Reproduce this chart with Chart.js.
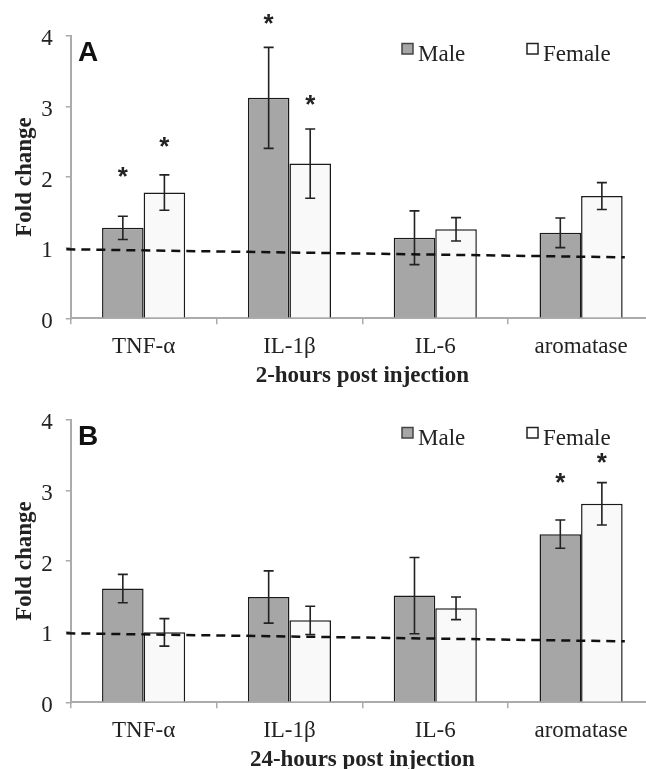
<!DOCTYPE html>
<html>
<head>
<meta charset="utf-8">
<script src="https://cdn.jsdelivr.net/npm/chart.js@4.4.0/dist/chart.umd.min.js"></script>
<style>
  body { margin: 0; background: #fff; width: 646px; height: 769px; overflow: hidden; position: relative; }
  .panel { position: absolute; left: 0; width: 660px; height: 392px; }
  .panel canvas { position: absolute; left: 0; top: 0; }
  #panelA { top: 0; }
  #panelB { top: 384px; }
</style>
</head>
<body>
<div class="panel" id="panelA">
  <canvas id="chartA" width="660" height="392"></canvas>
  <canvas id="lineA" width="660" height="392"></canvas>
</div>
<div class="panel" id="panelB">
  <canvas id="chartB" width="660" height="392"></canvas>
  <canvas id="lineB" width="660" height="392"></canvas>
</div>
<script>
// === Data ===
const categories = ["TNF-α", "IL-1β", "IL-6", "aromatase"];
const seriesLabels = ["Male", "Female"];

const male2h = [1.28, 3.12, 1.14, 1.21];
const male2hErr = [0.165, 0.715, 0.38, 0.21];
const female2h = [1.78, 2.19, 1.26, 1.73];
const female2hErr = [0.25, 0.49, 0.165, 0.19];

const male24h = [1.61, 1.49, 1.51, 2.38];
const male24hErr = [0.2, 0.37, 0.54, 0.2];
const female24h = [0.99, 1.16, 1.33, 2.81];
const female24hErr = [0.195, 0.2, 0.16, 0.3];

// height of the significance star (null = none)
const male2hStar = [2.1, 4.26, null, null];
const female2hStar = [2.52, 3.12, null, null];
const male24hStar = [null, null, null, 3.2];
const female24hStar = [null, null, null, 3.49];

// dashed reference line (x in category index units)
const refLineX = [-0.53, 3.3];
const refLineY = [0.977, 0.863];

const yMin = 0, yMax = 4, yStep = 1;

const MALE_FILL = "#a6a6a6";
const FEMALE_FILL = "#f9f9f9";
const INK = "#222";
const AXIS = "#ababab";

// chart area shared by the bar chart and the dashed-line overlay
const AREA = { left: 70.7, top: 35.7, right: 6, bottom: 73.7 };

Chart.defaults.font.family = '"Liberation Serif", "Times New Roman", serif';
Chart.defaults.color = INK;

// === Error bars, stars, legend, panel letter ===
const panelExtras = {
  id: "panelExtras",
  afterDatasetsDraw(chart, args, opts) {
    const ctx = chart.ctx;
    const ys = chart.scales.y;
    ctx.save();
    ctx.strokeStyle = INK;
    ctx.lineWidth = 1.6;
    opts.errors.forEach((errs, di) => {
      const meta = chart.getDatasetMeta(di);
      const vals = chart.data.datasets[di].data;
      meta.data.forEach((bar, j) => {
        const top = ys.getPixelForValue(vals[j] + errs[j]);
        const bot = ys.getPixelForValue(vals[j] - errs[j]);
        ctx.beginPath();
        ctx.moveTo(bar.x, top); ctx.lineTo(bar.x, bot);
        ctx.moveTo(bar.x - 5, top); ctx.lineTo(bar.x + 5, top);
        ctx.moveTo(bar.x - 5, bot); ctx.lineTo(bar.x + 5, bot);
        ctx.stroke();
      });
    });
    ctx.fillStyle = INK;
    ctx.font = 'bold 26px "Liberation Sans", Arial, sans-serif';
    ctx.textAlign = "center";
    ctx.textBaseline = "alphabetic";
    opts.stars.forEach((stars, di) => {
      const meta = chart.getDatasetMeta(di);
      stars.forEach((s, j) => {
        if (s == null) return;
        ctx.fillText("*", meta.data[j].x, ys.getPixelForValue(s) + 15);
      });
    });
    ctx.restore();
  },
  afterDraw(chart, args, opts) {
    const ctx = chart.ctx;
    ctx.save();
    // legend
    const items = [
      { x: 402, fill: MALE_FILL, stroke: "#444" },
      { x: 527, fill: "#fff", stroke: INK },
    ];
    ctx.font = '23px "Liberation Serif", "Times New Roman", serif';
    ctx.textBaseline = "alphabetic";
    items.forEach((it, i) => {
      ctx.fillStyle = it.fill;
      ctx.strokeStyle = it.stroke;
      ctx.lineWidth = 1.5;
      ctx.fillRect(it.x, 43.5, 11, 10.5);
      ctx.strokeRect(it.x, 43.5, 11, 10.5);
      ctx.fillStyle = INK;
      ctx.fillText(chart.data.datasets[i].label, it.x + 16, 60.7);
    });
    // panel letter
    ctx.font = 'bold 28px "Liberation Sans", Arial, sans-serif';
    ctx.fillStyle = "#111";
    ctx.fillText(opts.letter, 78, 61);
    ctx.restore();
  },
};

function buildChart(id, letter, xTitle, maleVals, maleErr, femaleVals, femaleErr, maleStars, femaleStars) {
  return new Chart(document.getElementById(id), {
    type: "bar",
    data: {
      labels: categories,
      datasets: [
        {
          label: seriesLabels[0],
          data: maleVals,
          backgroundColor: MALE_FILL,
          borderColor: "#1a1a1a",
          borderWidth: 1.5,
          categoryPercentage: 0.57,
          barPercentage: 1.0,
        },
        {
          label: seriesLabels[1],
          data: femaleVals,
          backgroundColor: FEMALE_FILL,
          borderColor: "#1a1a1a",
          borderWidth: 1.5,
          categoryPercentage: 0.57,
          barPercentage: 1.0,
        },
      ],
    },
    options: {
      responsive: false,
      animation: false,
      events: [],
      layout: { padding: { top: AREA.top, right: AREA.right, left: 0, bottom: 0 } },
      plugins: {
        legend: { display: false },
        tooltip: { enabled: false },
        panelExtras: {
          letter,
          errors: [maleErr, femaleErr],
          stars: [maleStars, femaleStars],
        },
      },
      scales: {
        x: {
          afterFit: (s) => { s.height = AREA.bottom; },
          grid: { drawOnChartArea: false, drawTicks: true, tickLength: 6, color: AXIS, lineWidth: 1.5 },
          border: { color: AXIS, width: 2 },
          ticks: { padding: 9, font: { size: 23 }, color: INK, maxRotation: 0 },
          title: {
            display: true,
            text: xTitle,
            font: { size: 23, weight: "bold" },
            color: INK,
            padding: { top: 0, bottom: 2 },
          },
        },
        y: {
          min: yMin,
          max: yMax,
          afterFit: (s) => { s.width = AREA.left; },
          grid: { drawOnChartArea: false, drawTicks: true, tickLength: 5, color: AXIS, lineWidth: 1.5 },
          border: { color: AXIS, width: 2 },
          ticks: { stepSize: yStep, padding: 13, labelOffset: 3.5, font: { size: 23 }, color: INK },
          title: {
            display: true,
            text: "Fold change",
            font: { size: 23, weight: "bold" },
            color: INK,
            padding: { top: 11, bottom: 0 },
          },
        },
      },
    },
    plugins: [panelExtras],
  });
}

// dashed line overlay: same plot area, linear x in category index units
function buildRefLine(id) {
  return new Chart(document.getElementById(id), {
    type: "line",
    data: {
      datasets: [
        {
          data: refLineX.map((x, i) => ({ x, y: refLineY[i] })),
          borderColor: "#111",
          borderWidth: 2.5,
          borderDash: [9, 6],
          pointRadius: 0,
          fill: false,
          clip: false,
        },
      ],
    },
    options: {
      responsive: false,
      animation: false,
      events: [],
      layout: { padding: AREA },
      plugins: { legend: { display: false }, tooltip: { enabled: false } },
      scales: {
        x: { type: "linear", display: false, min: -0.5, max: categories.length - 0.5 },
        y: { display: false, min: yMin, max: yMax },
      },
    },
  });
}

buildChart("chartA", "A", "2-hours post injection", male2h, male2hErr, female2h, female2hErr, male2hStar, female2hStar);
buildRefLine("lineA");
buildChart("chartB", "B", "24-hours post injection", male24h, male24hErr, female24h, female24hErr, male24hStar, female24hStar);
buildRefLine("lineB");
</script>
</body>
</html>
